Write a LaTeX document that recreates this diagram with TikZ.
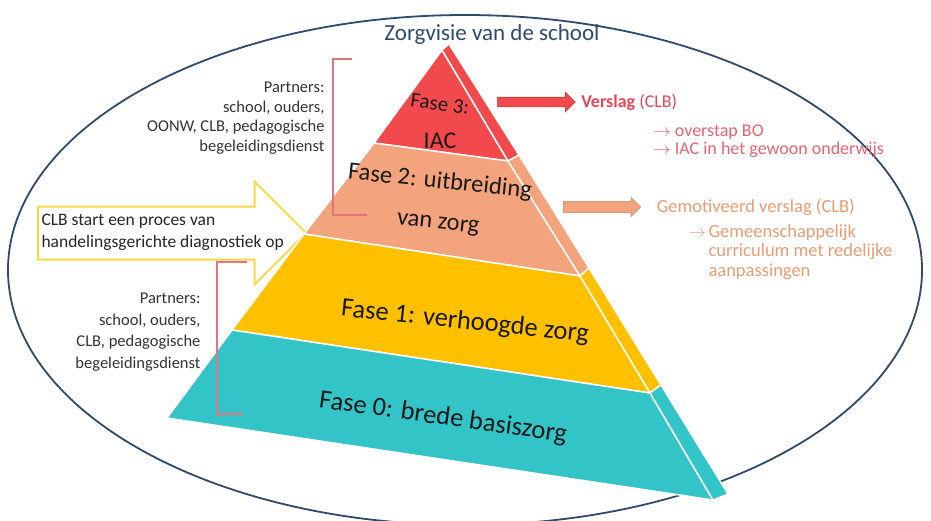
\documentclass[tikz,border=0pt]{standalone}
\usepackage{fontspec}
\setmainfont{Carlito}
\usepackage{tikz}
\usetikzlibrary{positioning,shapes.arrows}

\definecolor{rood}{HTML}{F24A4C}
\definecolor{zalm}{HTML}{F3A47C}
\definecolor{geel}{HTML}{FFC000}
\definecolor{turkoois}{HTML}{33C4C7}
\definecolor{lijn}{HTML}{2E4A6C}
\definecolor{haak}{HTML}{E27480}
\definecolor{pijlgeel}{HTML}{F7D948}
\definecolor{tekstrood}{HTML}{E2475A}
\definecolor{tekstzalm}{HTML}{E99C72}

\begin{document}
\begin{tikzpicture}[x=1pt,y=-1pt]
	\tikzstyle{laag}=[draw=white, line width=1.5pt, line join=round]
	\tikzstyle{fase}=[text=black!90, inner sep=0pt]
	\tikzstyle{partners}=[align=right, anchor=east, text=black!80]
	\tikzstyle{blokpijl}=[single arrow, anchor=tail, single arrow head indent=0pt]
	\tikzstyle{haakje}=[draw=haak, line width=1.5pt]
	\useasboundingbox (0,0) rectangle (931,520);
	% zorgvisie
		\draw[lijn, line width=1.8pt] (465,270) ellipse [x radius=457, y radius=255];
		\node[text=lijn, font=\fontsize{23}{26}\selectfont] (titel) at (492,34) {Zorgvisie van de school};
	% pijl CLB
		\node[blokpijl, draw=pijlgeel, fill=white, line width=2pt, minimum height=268pt, inner sep=25.5pt, single arrow head extend=25pt] (clbpijl) at (37,233) {};
		\node[anchor=west, align=left, text=black!85, font=\fontsize{17.5}{22}\selectfont] (clbtekst) at (38,232) {CLB start een proces van\\handelingsgerichte diagnostiek op};
	% piramide
		\coordinate (top) at (442,50);
		\coordinate (l2) at (374,143);
		\coordinate (l1) at (304,234);
		\coordinate (l0) at (232,330);
		\coordinate (lb) at (167,418);
		\coordinate (r2) at (508,161);
		\coordinate (r1) at (580,276);
		\coordinate (r0) at (650,393);
		\coordinate (rb) at (713,500);
		\coordinate (s3) at (449,44);
		\coordinate (s2) at (519,155);
		\coordinate (s1) at (589,268);
		\coordinate (s0) at (661,385);
		\coordinate (sb) at (728,494);
			\filldraw[laag, fill=rood] (top) -- (l2) -- (r2) -- cycle;
			\filldraw[laag, fill=rood] (top) -- (s3) -- (s2) -- (r2) -- cycle;
			\filldraw[laag, fill=zalm] (l2) -- (l1) -- (r1) -- (r2) -- cycle;
			\filldraw[laag, fill=zalm] (r2) -- (s2) -- (s1) -- (r1) -- cycle;
			\filldraw[laag, fill=geel] (l1) -- (l0) -- (r0) -- (r1) -- cycle;
			\filldraw[laag, fill=geel] (r1) -- (s1) -- (s0) -- (r0) -- cycle;
			\filldraw[laag, fill=turkoois] (l0) -- (lb) -- (rb) -- (r0) -- cycle;
			\filldraw[laag, fill=turkoois] (r0) -- (s0) -- (sb) -- (rb) -- cycle;
		\node[fase, rotate=-8, font=\fontsize{21}{24}\selectfont] (fase3) at (440,104) {Fase 3:};
		\node[fase, font=\fontsize{24}{26}\selectfont] (iac) at (440,141) {IAC};
		\node[fase, rotate=-6, font=\fontsize{24.5}{27}\selectfont] (fase2) at (440,182) {Fase 2: uitbreiding};
		\node[fase, rotate=-6, font=\fontsize{24.5}{27}\selectfont] (vanzorg) at (438,225) {van zorg};
		\node[fase, rotate=-6, font=\fontsize{26.5}{30}\selectfont] (fase1) at (465,322) {Fase 1: verhoogde zorg};
		\node[fase, rotate=-8, font=\fontsize{26.5}{30}\selectfont] (fase0) at (443,418) {Fase 0: brede basiszorg};
	% partners
		\draw[haakje] (352,59) -- (333,59) -- (333,215) -- (367,215);
		\draw[haakje] (247,262) -- (217,262) -- (217,414) -- (243,414);
		\node[partners, font=\fontsize{16.5}{19.7}\selectfont] (partners3) at (328,118) {Partners:\\school, ouders,\\OONW, CLB, pedagogische\\begeleidingsdienst};
		\node[partners, font=\fontsize{16.5}{21.7}\selectfont] (partners1) at (204,332) {Partners:\\school, ouders,\\CLB, pedagogische\\begeleidingsdienst};
	% verslagen
		\node[blokpijl, fill=rood, draw=rood!80!black, line width=0.6pt, minimum height=78pt, inner sep=4.5pt, single arrow head extend=5pt] (pijl3) at (497,102) {};
		\node[right=2pt of pijl3, text=tekstrood, font=\fontsize{18}{20}\selectfont] (verslag) {\textbf{Verslag} (CLB)};
		\node[anchor=north west, align=left, text=tekstrood!85, font=\fontsize{18}{18.5}\selectfont] (overstap) at (650,121) {$\rightarrow$ overstap BO\\$\rightarrow$ IAC in het gewoon onderwijs};
		\node[blokpijl, fill=zalm, draw=zalm!75!gray, line width=1pt, minimum height=77pt, inner sep=5pt, single arrow head extend=4pt] (pijl2) at (563,207) {};
		\node[right=12pt of pijl2, text=tekstzalm, font=\fontsize{18.5}{20}\selectfont] (gemotiveerd) {Gemotiveerd verslag (CLB)};
		\node[anchor=north west, align=left, text=tekstzalm, font=\fontsize{18.5}{19.5}\selectfont] (curriculum) at (685,221) {\makebox[20pt][l]{$\rightarrow$}Gemeenschappelijk\\\hspace*{20pt}curriculum met redelijke\\\hspace*{20pt}aanpassingen};
\end{tikzpicture}
\end{document}
